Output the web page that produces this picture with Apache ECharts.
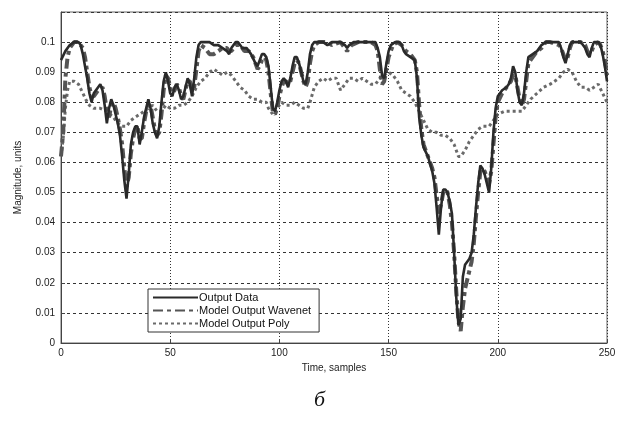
<!DOCTYPE html>
<html><head><meta charset="utf-8">
<script src="https://cdn.jsdelivr.net/npm/echarts@6/dist/echarts.min.js"></script>
<style>html,body{margin:0;padding:0;background:#fff}#c{width:626px;height:430px}</style>
</head><body><div id="c"></div>
<script>
const seriesNames = ['Output Data', 'Model Output Wavenet', 'Model Output Poly'];
const xTicks = [0, 50, 100, 150, 200, 250];
const yTicks = [0, 0.01, 0.02, 0.03, 0.04, 0.05, 0.06, 0.07, 0.08, 0.09, 0.1];

const outputData = [[0,0.094],[2,0.097],[4,0.099],[6,0.1],[8,0.1],[9,0.099],[10,0.096],[11,0.092],[12,0.088],[13,0.083],[14,0.080],[15,0.083],[17,0.085],[18,0.086],[19,0.084],[20,0.079],[21,0.073],[22,0.078],[23,0.081],[24,0.079],[25,0.076],[26,0.073],[27,0.069],[28,0.062],[29,0.054],[30,0.048],[31,0.056],[32,0.066],[33,0.070],[34,0.072],[35,0.072],[36,0.066],[37,0.070],[38,0.075],[39,0.078],[40,0.081],[41,0.078],[42,0.073],[43,0.070],[44,0.068],[45,0.072],[46,0.080],[47,0.087],[48,0.090],[49,0.087],[50,0.083],[51,0.082],[52,0.085],[53,0.086],[54,0.084],[55,0.081],[56,0.082],[57,0.085],[58,0.088],[59,0.086],[60,0.082],[61,0.088],[62,0.095],[63,0.099],[64,0.1],[66,0.1],[68,0.1],[70,0.099],[72,0.099],[74,0.098],[76,0.097],[77,0.096],[78,0.098],[80,0.1],[81,0.1],[83,0.098],[85,0.098],[87,0.096],[89,0.093],[90,0.092],[91,0.094],[92,0.096],[93,0.096],[94,0.095],[95,0.092],[96,0.085],[97,0.078],[98,0.077],[99,0.080],[100,0.084],[101,0.087],[102,0.088],[103,0.087],[104,0.085],[105,0.088],[106,0.092],[107,0.095],[108,0.095],[109,0.093],[110,0.090],[111,0.087],[112,0.086],[113,0.090],[114,0.096],[115,0.099],[116,0.1],[118,0.1],[120,0.1],[122,0.099],[124,0.1],[128,0.1],[130,0.099],[131,0.098],[132,0.099],[134,0.1],[138,0.1],[142,0.1],[144,0.1],[145,0.098],[146,0.095],[147,0.089],[148,0.088],[149,0.093],[150,0.097],[151,0.099],[153,0.1],[155,0.1],[156,0.099],[157,0.097],[158,0.096],[160,0.095],[162,0.094],[163,0.088],[164,0.075],[165,0.069],[166,0.065],[168,0.062],[170,0.057],[171,0.053],[172,0.045],[173,0.036],[174,0.045],[175,0.051],[176,0.051],[177,0.050],[178,0.047],[179,0.043],[180,0.030],[181,0.015],[182,0.006],[183,0.008],[184,0.022],[185,0.026],[186,0.027],[187,0.028],[188,0.030],[189,0.036],[190,0.045],[191,0.053],[192,0.059],[193,0.058],[194,0.056],[195,0.053],[196,0.050],[197,0.058],[198,0.070],[199,0.078],[200,0.082],[202,0.084],[204,0.085],[205,0.086],[206,0.088],[207,0.092],[208,0.090],[209,0.084],[210,0.080],[211,0.079],[212,0.083],[213,0.090],[214,0.095],[216,0.096],[218,0.097],[220,0.099],[222,0.1],[224,0.1],[226,0.1],[228,0.1],[229,0.098],[230,0.095],[231,0.093],[232,0.096],[233,0.099],[234,0.1],[236,0.1],[238,0.1],[240,0.098],[241,0.096],[242,0.095],[243,0.098],[244,0.1],[246,0.1],[247,0.099],[248,0.096],[249,0.092],[250,0.087]];

const wavenetData = [[0,0.062],[1,0.070],[2,0.088],[3,0.095],[4,0.098],[6,0.1],[8,0.1],[10,0.098],[11,0.095],[12,0.090],[13,0.085],[14,0.082],[15,0.082],[17,0.084],[19,0.085],[20,0.082],[21,0.077],[22,0.075],[23,0.079],[24,0.080],[25,0.078],[26,0.075],[27,0.071],[28,0.066],[29,0.058],[30,0.052],[31,0.055],[32,0.063],[33,0.068],[34,0.071],[35,0.072],[36,0.068],[37,0.068],[38,0.073],[39,0.077],[40,0.079],[41,0.079],[42,0.075],[43,0.071],[44,0.069],[45,0.070],[46,0.076],[47,0.084],[48,0.089],[49,0.088],[50,0.085],[51,0.083],[52,0.084],[53,0.086],[54,0.085],[55,0.082],[56,0.081],[57,0.084],[58,0.087],[59,0.087],[60,0.084],[61,0.085],[62,0.091],[63,0.097],[64,0.099],[66,0.098],[68,0.096],[70,0.096],[72,0.097],[74,0.098],[76,0.098],[77,0.097],[78,0.097],[80,0.099],[82,0.099],[84,0.097],[86,0.097],[88,0.095],[89,0.093],[90,0.091],[91,0.092],[92,0.094],[93,0.095],[94,0.094],[95,0.090],[96,0.083],[97,0.077],[98,0.076],[99,0.078],[100,0.082],[101,0.085],[102,0.087],[103,0.087],[104,0.086],[105,0.087],[106,0.090],[107,0.093],[108,0.094],[109,0.093],[110,0.090],[111,0.087],[112,0.085],[113,0.087],[114,0.093],[115,0.097],[116,0.099],[118,0.1],[122,0.1],[124,0.099],[128,0.1],[131,0.097],[133,0.099],[136,0.1],[142,0.1],[144,0.099],[145,0.097],[146,0.091],[147,0.086],[148,0.087],[149,0.091],[150,0.095],[152,0.099],[154,0.1],[156,0.099],[158,0.097],[160,0.096],[162,0.094],[163,0.090],[164,0.079],[165,0.071],[166,0.066],[168,0.062],[170,0.058],[171,0.055],[172,0.049],[173,0.043],[174,0.046],[175,0.050],[176,0.051],[177,0.050],[178,0.046],[179,0.040],[180,0.030],[181,0.017],[182,0.007],[183,0.004],[184,0.012],[185,0.018],[186,0.021],[187,0.024],[188,0.027],[189,0.033],[190,0.042],[191,0.050],[192,0.057],[193,0.058],[194,0.057],[195,0.055],[196,0.053],[197,0.057],[198,0.066],[199,0.075],[200,0.080],[202,0.083],[204,0.085],[206,0.087],[207,0.089],[208,0.089],[209,0.085],[210,0.081],[211,0.079],[212,0.081],[213,0.087],[214,0.093],[216,0.095],[218,0.097],[220,0.098],[222,0.1],[224,0.1],[228,0.099],[229,0.098],[230,0.096],[231,0.094],[232,0.095],[233,0.098],[234,0.1],[238,0.1],[240,0.099],[241,0.097],[242,0.096],[243,0.097],[244,0.099],[246,0.1],[247,0.099],[248,0.097],[249,0.094],[250,0.089]];

const polyData = [[0,0.062],[1,0.068],[2,0.078],[3,0.084],[4,0.087],[6,0.087],[8,0.086],[10,0.083],[12,0.080],[13,0.079],[15,0.078],[18,0.078],[21,0.077],[24,0.075],[26,0.073],[28,0.072],[30,0.072],[32,0.074],[34,0.075],[36,0.076],[38,0.077],[40,0.078],[42,0.079],[44,0.077],[46,0.077],[48,0.079],[50,0.078],[52,0.078],[54,0.079],[56,0.079],[58,0.080],[60,0.082],[62,0.085],[64,0.087],[66,0.088],[68,0.090],[70,0.091],[72,0.090],[74,0.089],[76,0.090],[78,0.089],[80,0.087],[82,0.085],[84,0.084],[86,0.082],[88,0.081],[90,0.081],[92,0.080],[94,0.080],[95,0.078],[97,0.076],[99,0.078],[101,0.080],[103,0.079],[105,0.079],[107,0.080],[109,0.079],[111,0.078],[113,0.078],[114,0.080],[116,0.085],[118,0.087],[120,0.088],[122,0.087],[124,0.088],[126,0.088],[128,0.084],[130,0.086],[132,0.088],[134,0.088],[136,0.087],[138,0.088],[140,0.087],[142,0.086],[144,0.086],[146,0.088],[148,0.089],[150,0.090],[152,0.089],[154,0.087],[156,0.084],[158,0.083],[160,0.082],[162,0.080],[164,0.077],[166,0.074],[168,0.071],[170,0.070],[172,0.070],[174,0.069],[176,0.069],[178,0.068],[180,0.066],[182,0.062],[183,0.062],[185,0.064],[187,0.067],[189,0.069],[191,0.071],[193,0.072],[196,0.072],[198,0.074],[200,0.076],[203,0.077],[206,0.077],[208,0.077],[211,0.077],[213,0.079],[215,0.081],[218,0.083],[221,0.085],[224,0.086],[226,0.087],[228,0.088],[230,0.090],[232,0.091],[234,0.090],[236,0.087],[238,0.085],[240,0.085],[242,0.084],[244,0.085],[246,0.086],[248,0.083],[250,0.080]];

const chart = echarts.init(document.getElementById('c'), null, {renderer: 'canvas'});
const labelFont = {fontFamily: 'Liberation Sans, Arial, sans-serif', fontSize: 10, color: '#222'};
chart.setOption({
  animation: false,
  backgroundColor: '#fff',
  title: {
    text: 'б', left: 309, top: 384,
    textStyle: {fontFamily: 'Liberation Serif, DejaVu Serif, serif', fontStyle: 'italic', fontWeight: 'normal', fontSize: 22, color: '#111'}
  },
  grid: {left: 61, top: 12, right: 19, bottom: 87, show: true, borderColor: '#666', borderWidth: 1, backgroundColor: '#fff'},
  legend: {
    orient: 'vertical', left: 148, top: 289,
    data: seriesNames,
    itemWidth: 45, itemHeight: 10, itemGap: 2,
    padding: [3, 8, 3, 4],
    borderColor: '#333', borderWidth: 1, borderRadius: 0, backgroundColor: '#fff',
    itemStyle: {opacity: 0},
    textStyle: {fontFamily: 'Liberation Sans, Arial, sans-serif', fontSize: 11, color: '#111', padding: [0, 0, 0, -4]}
  },
  xAxis: {
    type: 'value', min: 0, max: 250, interval: 50,
    name: 'Time, samples', nameLocation: 'middle', nameGap: 16,
    nameTextStyle: labelFont,
    axisLine: {lineStyle: {color: '#444'}},
    axisTick: {inside: true, length: 4, lineStyle: {color: '#444'}},
    axisLabel: Object.assign({margin: 5, formatter: v => xTicks.includes(v) ? String(v) : ''}, labelFont),
    splitLine: {show: true, lineStyle: {color: '#333', type: [1, 2], width: 1}}
  },
  yAxis: {
    type: 'value', min: 0, max: 0.11, interval: 0.01,
    name: 'Magnitude, units', nameLocation: 'middle', nameGap: 38, nameRotate: 90,
    nameTextStyle: labelFont,
    axisLine: {show: true, lineStyle: {color: '#444'}},
    axisTick: {inside: true, length: 4, lineStyle: {color: '#444'}},
    axisLabel: Object.assign({margin: 6, formatter: v => {
      const t = yTicks.find(k => Math.abs(k - v) < 1e-6);
      return t === undefined ? '' : String(t);
    }}, labelFont),
    splitLine: {show: true, lineStyle: {color: '#333', type: [3, 3], width: 1}}
  },
  series: [
    {name: seriesNames[2], type: 'line', data: polyData, symbol: 'none', z: 2,
     itemStyle: {color: '#6a6a6a'}, lineStyle: {color: '#6a6a6a', width: 3, type: [3, 3]}},
    {name: seriesNames[1], type: 'line', data: wavenetData, symbol: 'none', z: 3,
     itemStyle: {color: '#555'}, lineStyle: {color: '#555', width: 4, type: [10, 4, 4, 4]}},
    {name: seriesNames[0], type: 'line', data: outputData, symbol: 'none', z: 4,
     itemStyle: {color: '#2a2a2a'}, lineStyle: {color: '#2a2a2a', width: 2.6}}
  ]
});
</script></body></html>
